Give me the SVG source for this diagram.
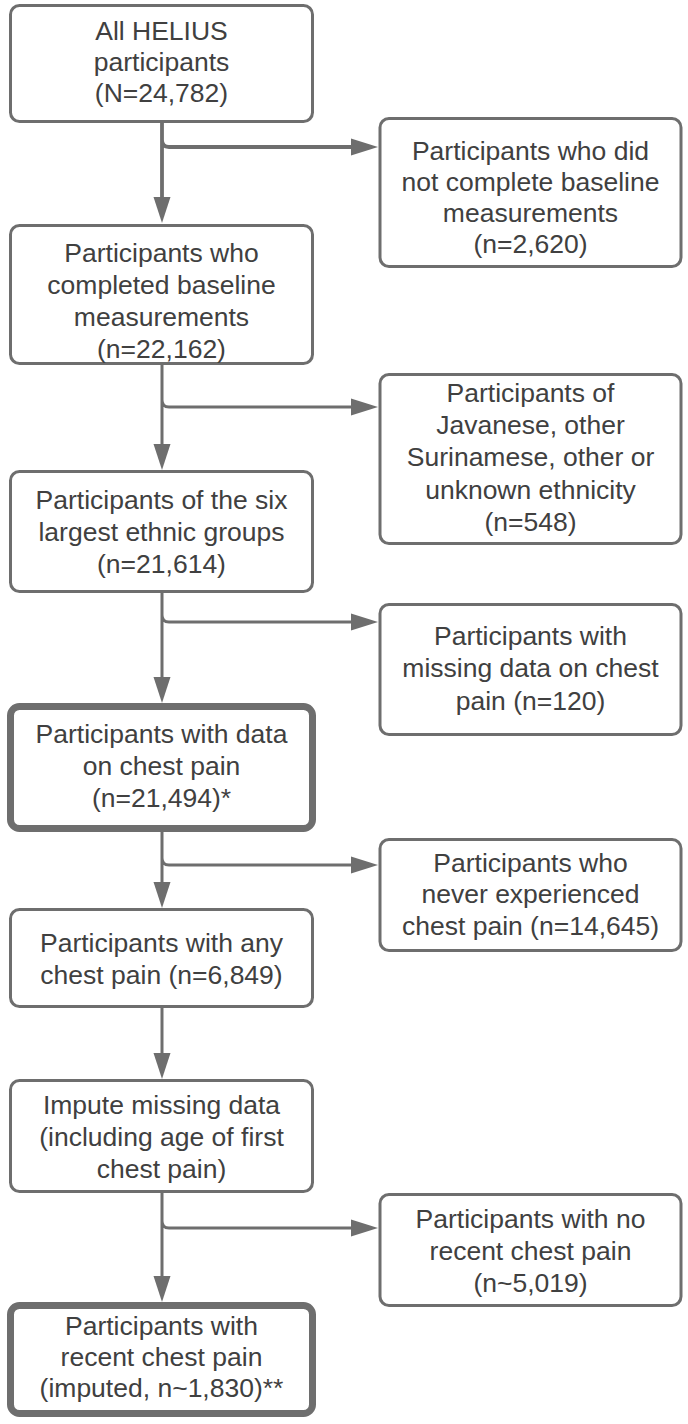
<svg xmlns="http://www.w3.org/2000/svg" width="688" height="1424" viewBox="0 0 688 1424">
<style>
.box{fill:#fff;stroke:#6e6e6e;stroke-width:3}
.thick{stroke-width:7}
.t{font-family:"Liberation Sans",Arial,sans-serif;font-size:26.5px;fill:#404040;text-anchor:middle}
.c{fill:none;stroke:#6e6e6e;stroke-width:3}
.c1{stroke-width:3.8}
.ah{fill:#6e6e6e}
</style>
<rect width="688" height="1424" fill="#fff"/>
<g id="connectors">
<path class="c c1" d="M162 123V199M162 123V140Q162 147 169 147H353"/>
<polygon class="ah" points="153.5,197 170.5,197 162,223"/>
<polygon class="ah" points="351,138.5 351,155.5 378,147"/>
<path class="c" d="M162 365V445M162 365V400Q162 407 169 407H353"/>
<polygon class="ah" points="153.5,444 170.5,444 162,470"/>
<polygon class="ah" points="351,398.5 351,415.5 378,407"/>
<path class="c" d="M162 593V678M162 593V615Q162 622 169 622H353"/>
<polygon class="ah" points="153.5,677 170.5,677 162,703"/>
<polygon class="ah" points="351,613.5 351,630.5 378,622"/>
<path class="c" d="M162 832V883M162 832V858Q162 865 169 865H353"/>
<polygon class="ah" points="153.5,882 170.5,882 162,908"/>
<polygon class="ah" points="351,856.5 351,873.5 378,865"/>
<path class="c" d="M162 1008V1054"/>
<polygon class="ah" points="153.5,1053 170.5,1053 162,1079"/>
<path class="c" d="M162 1193V1277M162 1193V1221Q162 1228 169 1228H353"/>
<polygon class="ah" points="153.5,1276 170.5,1276 162,1302"/>
<polygon class="ah" points="351,1219.5 351,1236.5 378,1228"/>
</g>
<g id="n1"><rect class="box" x="10.5" y="5.5" width="302" height="116" rx="9"/>
<text class="t" x="161.5" y="39.5">All HELIUS</text><text class="t" x="161.5" y="70.5">participants</text><text class="t" x="161.5" y="101.5">(N=24,782)</text></g>
<g id="r1"><rect class="box" x="380" y="118.5" width="301" height="148" rx="9"/>
<text class="t" x="530.5" y="159.5">Participants who did</text><text class="t" x="530.5" y="190.5">not complete baseline</text><text class="t" x="530.5" y="221.5">measurements</text><text class="t" x="530.5" y="252.5">(n=2,620)</text></g>
<g id="n2"><rect class="box" x="10.5" y="225.5" width="302" height="138" rx="9"/>
<text class="t" x="161.5" y="261.5">Participants who</text><text class="t" x="161.5" y="293.5">completed baseline</text><text class="t" x="161.5" y="325.5">measurements</text><text class="t" x="161.5" y="357.5">(n=22,162)</text></g>
<g id="r2"><rect class="box" x="380" y="374.5" width="301" height="169" rx="9"/>
<text class="t" x="530.5" y="401.5">Participants of</text><text class="t" x="530.5" y="434">Javanese, other</text><text class="t" x="530.5" y="466">Surinamese, other or</text><text class="t" x="530.5" y="498.5">unknown ethnicity</text><text class="t" x="530.5" y="531">(n=548)</text></g>
<g id="n3"><rect class="box" x="10.5" y="471.5" width="302" height="120" rx="9"/>
<text class="t" x="161.5" y="508.5">Participants of the six</text><text class="t" x="161.5" y="540.5">largest ethnic groups</text><text class="t" x="161.5" y="572.5">(n=21,614)</text></g>
<g id="r3"><rect class="box" x="380" y="604.5" width="301" height="130" rx="9"/>
<text class="t" x="530.5" y="644.5">Participants with</text><text class="t" x="530.5" y="677">missing data on chest</text><text class="t" x="530.5" y="709.5">pain (n=120)</text></g>
<g id="n4"><rect class="box thick" x="10.5" y="706.5" width="302" height="122" rx="9"/>
<text class="t" x="161.5" y="742.5">Participants with data</text><text class="t" x="161.5" y="774.5">on chest pain</text><text class="t" x="161.5" y="806.5">(n=21,494)*</text></g>
<g id="r4"><rect class="box" x="380" y="839.5" width="301" height="111" rx="9"/>
<text class="t" x="530.5" y="871.5">Participants who</text><text class="t" x="530.5" y="903">never experienced</text><text class="t" x="530.5" y="934.5">chest pain (n=14,645)</text></g>
<g id="n5"><rect class="box" x="10.5" y="909.5" width="302" height="97" rx="9"/>
<text class="t" x="161.5" y="951.5">Participants with any</text><text class="t" x="161.5" y="983.5">chest pain (n=6,849)</text></g>
<g id="n6"><rect class="box" x="10.5" y="1080.5" width="302" height="111" rx="9"/>
<text class="t" x="161.5" y="1113.5">Impute missing data</text><text class="t" x="161.5" y="1145.5">(including age of first</text><text class="t" x="161.5" y="1177.5">chest pain)</text></g>
<g id="r5"><rect class="box" x="380" y="1194.5" width="301" height="111" rx="9"/>
<text class="t" x="530.5" y="1227.5">Participants with no</text><text class="t" x="530.5" y="1259.5">recent chest pain</text><text class="t" x="530.5" y="1291.5">(n~5,019)</text></g>
<g id="n7"><rect class="box thick" x="10.5" y="1305.5" width="302" height="108" rx="9"/>
<text class="t" x="161.5" y="1334.5">Participants with</text><text class="t" x="161.5" y="1365.5">recent chest pain</text><text class="t" x="161.5" y="1396.5">(imputed, n~1,830)**</text></g>
</svg>
